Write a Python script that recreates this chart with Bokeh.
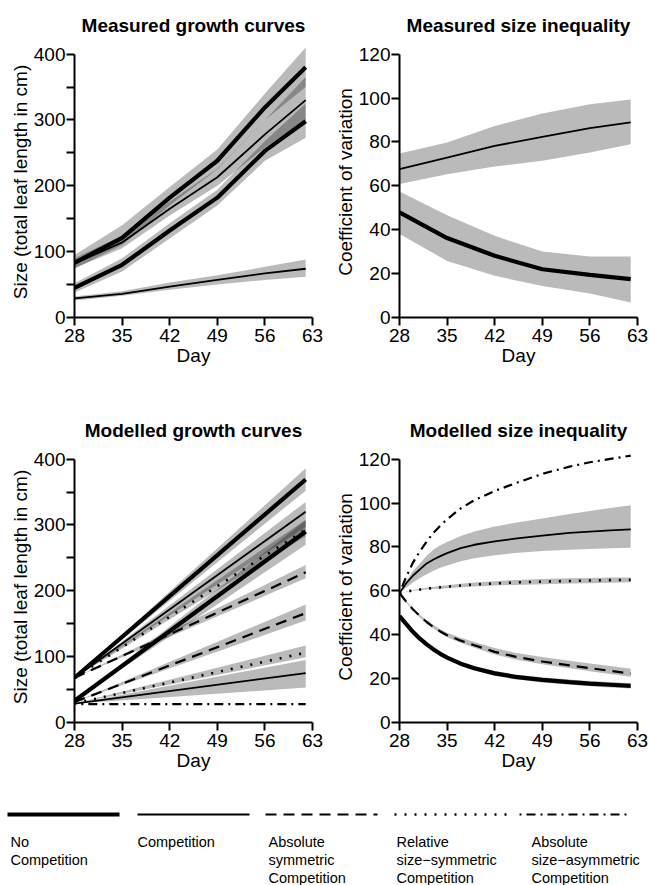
from bokeh.plotting import figure
from bokeh.models import Range1d, FixedTicker
from bokeh.layouts import column, row
from bokeh.embed import file_html
from bokeh.resources import INLINE
from bokeh.core.properties import value

FONT = "Liberation Sans"

# ---------------- data ----------------
x_ticks = [28, 35, 42, 49, 56, 63]
size_ticks = [0, 50, 100, 150, 200, 250, 300, 350, 400]
cv_ticks = [0, 20, 40, 60, 80, 100, 120]

# Measured growth curves (size, total leaf length in cm)
meas_day = [28, 35, 42, 49, 56, 62]
gm_nocomp_large = [83, 121, 182, 238, 319, 380]
gm_nocomp_large_lo = [74, 110, 170, 225, 300, 350]
gm_nocomp_large_hi = [95, 140, 198, 255, 340, 410]
gm_comp_large = [82, 114, 165, 213, 278, 330]
gm_comp_large_lo = [75, 105, 155, 200, 258, 300]
gm_comp_large_hi = [90, 124, 176, 226, 300, 365]
gm_nocomp_small = [45, 80, 132, 182, 253, 298]
gm_nocomp_small_lo = [38, 70, 120, 170, 238, 273]
gm_nocomp_small_hi = [52, 90, 143, 194, 268, 325]
gm_comp_small = [29, 36, 47, 57, 67, 74]
gm_comp_small_lo = [26, 33, 42, 50, 57, 62]
gm_comp_small_hi = [32, 40, 53, 64, 77, 88]

# Measured size inequality (coefficient of variation)
im_comp = [67.6, 72.9, 78.2, 82.3, 86.3, 88.9]
im_comp_lo = [60.8, 65.3, 68.8, 71.4, 75.2, 79.0]
im_comp_hi = [74.7, 79.7, 87.3, 93.0, 97.2, 99.3]
im_nocomp = [47.9, 36.2, 28.1, 22.0, 19.4, 17.5]
im_nocomp_lo = [38.0, 25.8, 19.0, 14.4, 10.9, 6.8]
im_nocomp_hi = [57.4, 46.6, 37.2, 30.1, 27.8, 27.8]

# Modelled growth curves (start and end day)
mod_day = [28, 62]
asym_day = [29, 62]
mg_nocomp_large = [68, 369]
mg_nocomp_large_lo = [68, 352]
mg_nocomp_large_hi = [68, 386]
mg_nocomp_small = [33, 290]
mg_nocomp_small_lo = [33, 270]
mg_nocomp_small_hi = [33, 307]
mg_comp_large = [68, 320]
mg_comp_large_lo = [68, 297]
mg_comp_large_hi = [68, 335]
mg_comp_small = [28.5, 75]
mg_comp_small_lo = [28.5, 53]
mg_comp_small_hi = [28.5, 95]
mg_abssym_large = [68, 228]
mg_abssym_large_lo = [68, 219]
mg_abssym_large_hi = [68, 239]
mg_abssym_small = [31, 166]
mg_abssym_small_lo = [31, 155]
mg_abssym_small_hi = [31, 179]
mg_relsym_large = [68, 293]
mg_relsym_large_lo = [68, 283]
mg_relsym_large_hi = [68, 308]
mg_relsym_small = [29, 106]
mg_relsym_small_lo = [29, 99]
mg_relsym_small_hi = [29, 117]
mg_absasym_small = [28, 28]

# Modelled size inequality
mi_day = [28, 29, 30, 31, 32, 33, 34, 35, 37, 39, 42, 45, 49, 53, 56, 59, 62]
mi_nocomp = [48.5, 44.8, 41.2, 38.2, 35.6, 33.3, 31.3, 29.6, 26.8, 24.7, 22.4, 20.8, 19.4, 18.4, 17.7, 17.2, 16.7]
mi_nocomp_lo = [48.5, 44.5, 40.8, 37.7, 35.0, 32.6, 30.6, 28.8, 25.9, 23.7, 21.3, 19.7, 18.2, 17.2, 16.5, 16.0, 15.5]
mi_nocomp_hi = [48.5, 45.1, 41.6, 38.7, 36.2, 34.0, 32.0, 30.4, 27.7, 25.7, 23.5, 21.9, 20.6, 19.6, 18.9, 18.4, 17.9]
mi_comp = [59, 63.5, 67.0, 69.8, 72.5, 74.3, 75.8, 77.2, 79.5, 81.0, 82.5, 83.8, 85.2, 86.4, 87.0, 87.6, 88.0]
mi_comp_lo = [59, 61.5, 63.8, 65.8, 67.6, 69.2, 70.5, 71.6, 73.5, 74.8, 76.2, 77.2, 78.1, 78.7, 79.1, 79.4, 79.6]
mi_comp_hi = [59, 64.5, 69.0, 72.5, 76.0, 78.8, 80.8, 82.3, 85.0, 87.0, 89.3, 91.0, 93.0, 95.0, 96.4, 97.8, 99.0]
mi_abssym = [59, 55.0, 51.5, 48.5, 45.8, 43.5, 41.5, 39.8, 37.3, 35.2, 32.2, 30.0, 27.8, 26.0, 24.8, 23.5, 22.3]
mi_abssym_lo = [59, 54.6, 51.0, 47.9, 45.1, 42.8, 40.7, 38.9, 36.3, 34.1, 31.0, 28.7, 26.5, 24.7, 23.4, 22.1, 20.8]
mi_abssym_hi = [59, 55.4, 52.0, 49.1, 46.6, 44.4, 42.5, 40.9, 38.6, 36.7, 33.9, 31.8, 29.8, 28.1, 26.9, 25.7, 24.5]
mi_relsym = [59, 59.6, 60.2, 60.6, 61.0, 61.3, 61.6, 61.9, 62.4, 62.9, 63.4, 63.8, 64.2, 64.5, 64.7, 64.9, 65.0]
mi_relsym_lo = [59, 59.5, 60.0, 60.3, 60.6, 60.8, 61.0, 61.2, 61.6, 62.0, 62.4, 62.7, 63.0, 63.3, 63.5, 63.7, 63.9]
mi_relsym_hi = [59, 59.7, 60.4, 60.9, 61.4, 61.8, 62.2, 62.6, 63.2, 63.8, 64.4, 64.9, 65.4, 65.7, 65.9, 66.1, 66.1]
mi_absasym = [59, 66.5, 73.0, 78.0, 82.5, 86.5, 89.7, 92.6, 97.6, 101.3, 105.5, 109.0, 113.3, 116.6, 118.6, 120.1, 121.6]

legend_labels = [
    ["No", "Competition"],
    ["Competition"],
    ["Absolute", "symmetric", "Competition"],
    ["Relative", "size\u2212symmetric", "Competition"],
    ["Absolute", "size\u2212asymmetric", "Competition"],
]

# ---------------- styles ----------------
BAND = dict(fill_color="black", fill_alpha=0.27)
ST_NOCOMP = dict(line_color="black", line_width=4.2)
ST_COMP = dict(line_color="black", line_width=1.8)
ST_ABSSYM = dict(line_color="black", line_width=2.2, line_dash="11 7")
ST_RELSYM = dict(line_color="black", line_width=2.6, line_dash="2 8")
ST_ABSASYM = dict(line_color="black", line_width=2.2, line_dash="2 5 9 5")
LEG_STYLES = [ST_NOCOMP, ST_COMP, ST_ABSSYM, ST_RELSYM, ST_ABSASYM]

FRAME_W = 238
FRAME_H = 271


def make_panel(title, ylabel, yticks, ymax_axis, yend, overrides, left_w, right_w, top_h, bottom_h):
    p = figure(
        width=left_w + FRAME_W + right_w,
        height=top_h + FRAME_H + bottom_h,
        x_range=Range1d(28, 63),
        y_range=Range1d(0, yend),
        output_backend="svg",
        toolbar_location=None,
        min_border_left=left_w,
        min_border_right=right_w,
        min_border_top=top_h,
        min_border_bottom=bottom_h,
        title=title,
    )
    p.outline_line_color = None
    p.grid.visible = False
    p.background_fill_color = "white"
    p.border_fill_color = "white"
    p.title.align = "center"
    p.title.text_font = FONT
    p.title.text_font_size = "19px"
    p.title.text_font_style = "bold"
    p.title.text_color = "black"
    p.title.standoff = 22

    for ax in (p.xaxis[0], p.yaxis[0]):
        ax.axis_line_width = 2
        ax.axis_line_color = "black"
        ax.major_tick_line_width = 2
        ax.major_tick_line_color = "black"
        ax.major_tick_out = 8
        ax.major_tick_in = 0
        ax.minor_tick_line_color = None
        ax.major_label_text_font = FONT
        ax.major_label_text_font_size = "19px"
        ax.major_label_text_color = "black"
        ax.axis_label_text_font = FONT
        ax.axis_label_text_font_size = "19px"
        ax.axis_label_text_font_style = "normal"
        ax.axis_label_text_color = "black"

    p.xaxis[0].ticker = FixedTicker(ticks=x_ticks)
    p.xaxis[0].bounds = (28, 63)
    p.xaxis[0].axis_label = "Day"
    p.xaxis[0].major_label_standoff = 3
    p.xaxis[0].axis_label_standoff = 0

    p.yaxis[0].ticker = FixedTicker(ticks=yticks)
    p.yaxis[0].bounds = (0, ymax_axis)
    p.yaxis[0].axis_label = ylabel
    p.yaxis[0].major_label_standoff = 1
    p.yaxis[0].axis_label_standoff = 0
    if overrides:
        p.yaxis[0].major_label_overrides = overrides
    return p


size_over = {t: "" for t in size_ticks if t % 100 != 0}

# Panel 1: measured growth
p1 = make_panel("Measured growth curves", "Size (total leaf length in cm)", size_ticks, 400, 411.5,
                size_over, 74, 13, 46, 88)
for lo, hi in [(gm_nocomp_large_lo, gm_nocomp_large_hi), (gm_comp_large_lo, gm_comp_large_hi),
               (gm_nocomp_small_lo, gm_nocomp_small_hi), (gm_comp_small_lo, gm_comp_small_hi)]:
    p1.varea(x=meas_day, y1=lo, y2=hi, **BAND)
p1.line(meas_day, gm_comp_large, **ST_COMP)
p1.line(meas_day, gm_comp_small, **ST_COMP)
p1.line(meas_day, gm_nocomp_large, **ST_NOCOMP)
p1.line(meas_day, gm_nocomp_small, **ST_NOCOMP)

# Panel 2: measured inequality
p2 = make_panel("Measured size inequality", "Coefficient of variation", cv_ticks, 120, 123.5,
                None, 74, 12, 46, 88)
p2.varea(x=meas_day, y1=im_comp_lo, y2=im_comp_hi, **BAND)
p2.varea(x=meas_day, y1=im_nocomp_lo, y2=im_nocomp_hi, **BAND)
p2.line(meas_day, im_comp, **ST_COMP)
p2.line(meas_day, im_nocomp, **ST_NOCOMP)

# Panel 3: modelled growth
p3 = make_panel("Modelled growth curves", "Size (total leaf length in cm)", size_ticks, 400, 411.5,
                size_over, 74, 13, 46, 78)
for lo, hi in [(mg_nocomp_large_lo, mg_nocomp_large_hi), (mg_nocomp_small_lo, mg_nocomp_small_hi),
               (mg_comp_large_lo, mg_comp_large_hi), (mg_comp_small_lo, mg_comp_small_hi),
               (mg_abssym_large_lo, mg_abssym_large_hi), (mg_abssym_small_lo, mg_abssym_small_hi),
               (mg_relsym_large_lo, mg_relsym_large_hi), (mg_relsym_small_lo, mg_relsym_small_hi)]:
    p3.varea(x=mod_day, y1=lo, y2=hi, **BAND)
p3.line(asym_day, mg_absasym_small, **ST_ABSASYM)
p3.line(mod_day, mg_relsym_large, **ST_RELSYM)
p3.line(mod_day, mg_relsym_small, **ST_RELSYM)
p3.line(mod_day, mg_abssym_large, **ST_ABSSYM)
p3.line(mod_day, mg_abssym_small, **ST_ABSSYM)
p3.line(mod_day, mg_comp_large, **ST_COMP)
p3.line(mod_day, mg_comp_small, **ST_COMP)
p3.line(mod_day, mg_nocomp_large, **ST_NOCOMP)
p3.line(mod_day, mg_nocomp_small, **ST_NOCOMP)

# Panel 4: modelled inequality
p4 = make_panel("Modelled size inequality", "Coefficient of variation", cv_ticks, 120, 123.5,
                None, 74, 12, 46, 78)
for lo, hi in [(mi_comp_lo, mi_comp_hi), (mi_relsym_lo, mi_relsym_hi),
               (mi_abssym_lo, mi_abssym_hi), (mi_nocomp_lo, mi_nocomp_hi)]:
    p4.varea(x=mi_day, y1=lo, y2=hi, **BAND)
p4.line(mi_day, mi_absasym, **ST_ABSASYM)
p4.line(mi_day, mi_comp, **ST_COMP)
p4.line(mi_day, mi_relsym, **ST_RELSYM)
p4.line(mi_day, mi_abssym, **ST_ABSSYM)
p4.line(mi_day, mi_nocomp, **ST_NOCOMP)

# Legend strip
LEG_W, LEG_H = 649, 85
leg = figure(width=LEG_W, height=LEG_H, x_range=Range1d(0, LEG_W), y_range=Range1d(LEG_H, 0),
             output_backend="svg", toolbar_location=None, x_axis_type=None, y_axis_type=None,
             min_border=0)
leg.outline_line_color = None
leg.grid.visible = False
slot_line_x = [7, 137, 265, 394, 519]
slot_text_x = [10, 137, 268, 396, 531]
sample_len = 112
line_y = 14
text_y0 = 41.5
text_dy = 18
for i, labels in enumerate(legend_labels):
    leg.line([slot_line_x[i], slot_line_x[i] + sample_len], [line_y, line_y], **LEG_STYLES[i])
    leg.text(x=[slot_text_x[i]] * len(labels),
             y=[text_y0 + k * text_dy for k in range(len(labels))],
             text=labels, text_font=value(FONT), text_font_size="14.5px",
             text_baseline="middle", text_align="left", text_color="black")

layout = column(row(p1, p2), row(p3, p4), leg)

with open("out.html", "w") as f:
    f.write(file_html(layout, INLINE))
